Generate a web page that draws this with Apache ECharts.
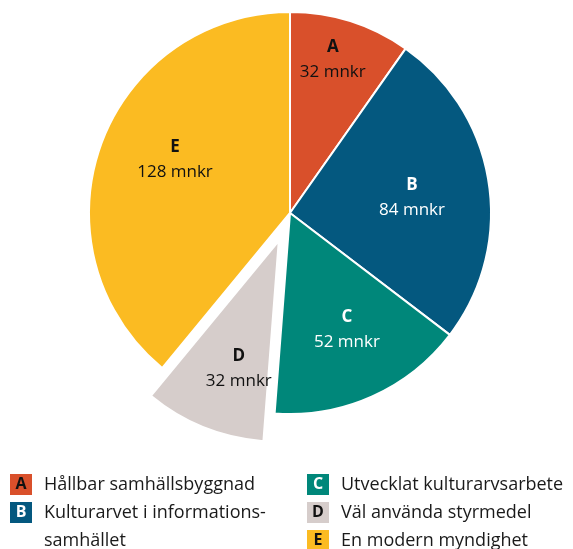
<!DOCTYPE html>
<html>
<head>
<meta charset="utf-8">
<script src="https://cdn.jsdelivr.net/npm/echarts@6/dist/echarts.min.js"></script>
<style>
  html, body { margin: 0; padding: 0; background: #fff; }
  #chart { width: 573px; height: 549px; }
</style>
</head>
<body>
<div id="chart"></div>
<script>
// data
const letters = ['A', 'B', 'C', 'D', 'E'];
const names = [
  'Hållbar samhällsbyggnad',
  'Kulturarvet i informations-\nsamhället',
  'Utvecklat kulturarvsarbete',
  'Väl använda styrmedel',
  'En modern myndighet'
];
const values = [32, 84, 52, 32, 128];
const colors = ['#D9502B', '#04587F', '#00877A', '#D6CDCB', '#FBBB22'];
const letterColors = ['#111', '#fff', '#fff', '#111', '#111'];

const cx = 290, cy = 213, R = 201, dOffset = 30;
// label placement: radius factor and small angle tweak (deg) per slice
const labelR = [0.793, 0.612, 0.647, 0.664, 0.63];
const labelTurn = [-2, 1.6, -1.8, -3.7, 5];

const total = values.reduce((a, b) => a + b, 0);
let acc = 0;
const mids = values.map(v => {
  const m = (acc + v / 2) / total * Math.PI * 2;
  acc += v;
  return m;
});

const font = '"Open Sans", sans-serif';

// rich styles for legend boxes
const rich = { t: { fontSize: 18, color: '#1a1a1a', fontFamily: font, lineHeight: 28, padding: [0, 0, 0, 12] },
               sp: { width: 22, lineHeight: 28 } };
letters.forEach((l, i) => {
  rich['b' + l] = {
    backgroundColor: colors[i], color: letterColors[i], fontWeight: 'bold',
    fontSize: 16, fontFamily: font, width: 22, height: 21, align: 'center', lineHeight: 21
  };
});

function legendText(name) {
  const i = names.indexOf(name);
  const parts = name.split('\n');
  let s = '{b' + letters[i] + '|' + letters[i] + '}{t|' + parts[0] + '}';
  for (let k = 1; k < parts.length; k++) s += '\n{sp|}{t|' + parts[k] + '}';
  return s;
}

const legendBase = {
  orient: 'vertical', top: 474, height: 120, padding: 0,
  icon: 'none', itemWidth: 0, itemHeight: 0, itemGap: 7, selectedMode: false,
  formatter: legendText, textStyle: { rich: rich }
};

const chart = echarts.init(document.getElementById('chart'));
chart.setOption({
  animation: false,
  legend: [
    Object.assign({}, legendBase, { data: [names[0], names[1]], left: 5 }),
    Object.assign({}, legendBase, { data: [names[2], names[3], names[4]], left: 302 })
  ],
  series: [
    {
      // the slices
      type: 'pie',
      center: [cx, cy],
      radius: [0, R],
      startAngle: 90,
      clockwise: true,
      selectedMode: 'single',
      selectedOffset: dOffset,
      emphasis: { disabled: true },
      itemStyle: { borderColor: '#fff', borderWidth: 2 },
      label: { show: false },
      labelLine: { show: false },
      data: values.map((v, i) => ({
        name: names[i],
        value: v,
        selected: letters[i] === 'D',
        itemStyle: { color: colors[i] }
      }))
    },
    {
      // transparent copy that carries the labels
      type: 'pie',
      center: [cx, cy],
      radius: [0, R],
      startAngle: 90,
      clockwise: true,
      silent: true,
      selectedMode: false,
      emphasis: { disabled: true },
      itemStyle: { color: 'rgba(0,0,0,0)', borderWidth: 0 },
      label: {
        show: true,
        position: 'inside',
        formatter: p => '{l|' + letters[p.dataIndex] + '}\n{v|' + p.value + ' mnkr}',
        rich: {
          l: { fontSize: 17, fontWeight: 'bold', color: '#111', fontFamily: font, lineHeight: 25 },
          v: { fontSize: 17, color: '#111', fontFamily: font, lineHeight: 25 }
        }
      },
      labelLine: { show: false },
      labelLayout: function (p) {
        const i = p.dataIndex;
        const a = mids[i] + labelTurn[i] * Math.PI / 180;
        const r = labelR[i] * R + (letters[i] === 'D' ? dOffset : 0);
        return {
          x: cx + r * Math.sin(a),
          y: cy - r * Math.cos(a),
          align: 'center',
          verticalAlign: 'middle'
        };
      },
      data: values.map((v, i) => ({
        name: names[i] + ' ',
        value: v,
        label: { rich: {
          l: { color: letterColors[i] },
          v: { color: letterColors[i] }
        } }
      }))
    }
  ]
});
</script>
</body>
</html>
